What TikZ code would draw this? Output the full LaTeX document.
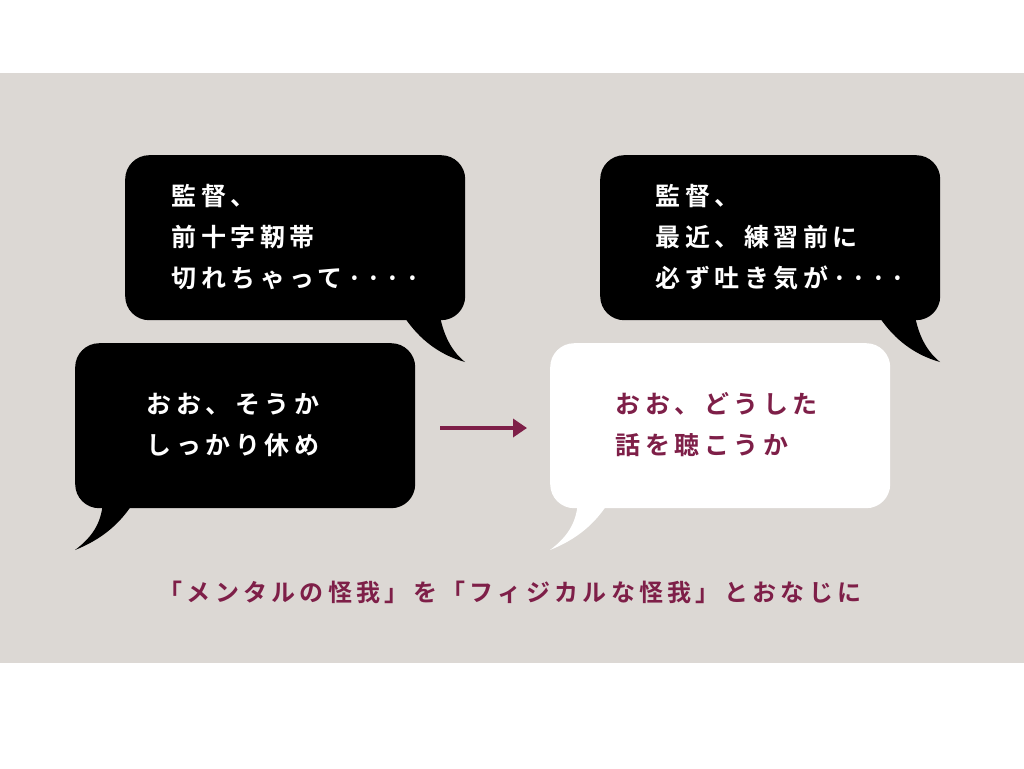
\documentclass[tikz,border=0pt]{standalone}
\usepackage{fontspec}
\usetikzlibrary{arrows.meta}
\newfontfamily\jp[LetterSpace=18]{Noto Sans CJK JP Bold}
\definecolor{bg}{HTML}{DCD8D4}
\definecolor{mar}{HTML}{7E1F48}
\begin{document}
\begin{tikzpicture}[x=1pt,y=-1pt,
  bub/.style={rounded corners=24pt,minimum width=340pt,minimum height=165pt,anchor=north west,inner sep=0pt},
  txt/.style={anchor=west,align=left,font=\jp\fontsize{25}{41}\selectfont}]
\useasboundingbox (0,0) rectangle (1024,768);
\fill[white] (0,0) rectangle (1024,768);
\fill[bg] (0,73) rectangle (1024,663);
% top-left
\node[bub,fill=black] (a) at (125,155) {};
\fill[black] (400,300) -- (438,300) .. controls (440,330) and (450,350) .. (465,362) .. controls (440,355) and (420,340) .. (405,318) -- cycle;
\node[txt,white] (ta) at (168,237) {監督、\\前十字靭帯\\切れちゃって····};
% bottom-left
\node[bub,fill=black] (b) at (75,343) {};
\fill[black] (100,500) -- (135,500) .. controls (120,525) and (100,540) .. (75,550) .. controls (95,535) and (102,520) .. (103,500) -- cycle;
\node[txt,white] (tb) at (143,425) {おお、そうか\\しっかり休め};
% top-right
\node[bub,fill=black] (c) at (600,155) {};
\fill[black] (875,300) -- (913,300) .. controls (915,330) and (925,350) .. (940,362) .. controls (915,355) and (895,340) .. (880,318) -- cycle;
\node[txt,white] (tc) at (652,237) {監督、\\最近、練習前に\\必ず吐き気が····};
% bottom-right
\node[bub,fill=white] (d) at (550,343) {};
\fill[white] (575,500) -- (610,500) .. controls (595,525) and (575,540) .. (550,550) .. controls (570,535) and (577,520) .. (578,500) -- cycle;
\node[txt,mar] (td) at (612,425) {おお、どうした\\話を聴こうか};
% arrow
\coordinate (p1) at (440,428);
\coordinate (p2) at (527,428);
\draw[mar,line width=3.5pt,-{Triangle[length=14pt,width=18pt]}] (p1) -- (p2);
\node[mar,font=\jp\fontsize{24}{30}\selectfont] (cap) at (510,592) {「メンタルの怪我」を「フィジカルな怪我」とおなじに};
\end{tikzpicture}
\end{document}
